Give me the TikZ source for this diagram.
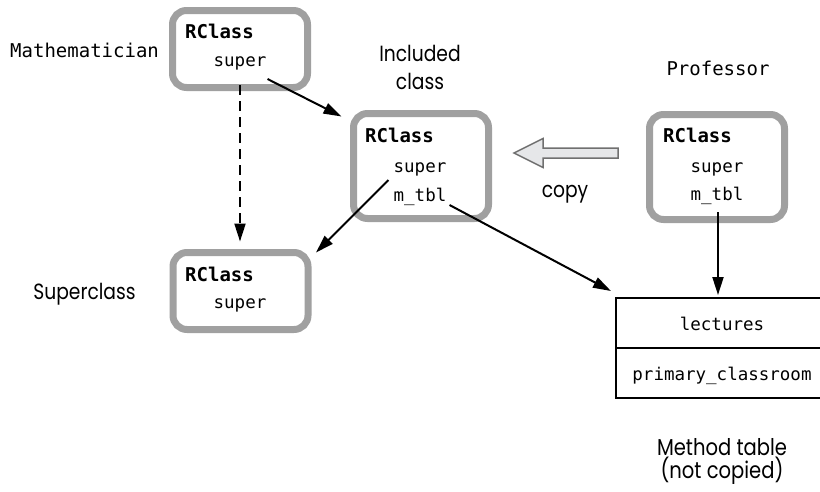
\documentclass[tikz,border=0pt]{standalone}
\usepackage{fontspec}
\setmonofont{DejaVu Sans Mono}
\newfontfamily\labelsans{Poppins}[FakeStretch=0.85]
\usetikzlibrary{arrows.meta}
\definecolor{framegray}{RGB}{160,160,160}
\definecolor{copyfill}{RGB}{230,231,233}
\definecolor{copyedge}{RGB}{112,112,112}

\begin{document}
\begin{tikzpicture}[x=1pt,y=-1pt,
  classbox/.style={draw=framegray, line width=7pt, rounded corners=14pt,
    minimum width=135pt, inner sep=0pt, fill=white},
  bodytext/.style={font=\ttfamily\fontsize{17.5}{20}\selectfont, inner sep=0pt, anchor=base},
  headtext/.style={font=\ttfamily\bfseries\fontsize{19}{22}\selectfont, inner sep=0pt, anchor=base west},
  monolabel/.style={font=\ttfamily\fontsize{19}{22}\selectfont, inner sep=0pt},
  sanslabel/.style={font=\labelsans\fontsize{22}{28}\selectfont, inner sep=0pt, align=center},
  link/.style={line width=2pt, -{Triangle[length=18pt,width=11pt]}},
  cell/.style={draw, line width=2pt, minimum width=214pt, minimum height=50pt, inner sep=0pt},
]
\useasboundingbox (0,0) rectangle (820,491);
\clip (0,0) rectangle (820,491);

% class structures
\node[classbox, minimum height=77pt]  (mbox) at (240,49)    {};
\node[classbox, minimum height=105pt] (ibox) at (421,166)   {};
\node[classbox, minimum height=105pt] (pbox) at (717,167)   {};
\node[classbox, minimum height=77pt]  (sbox) at (240.5,291) {};

\node[headtext] (mhead) at (185,38)  {RClass};
\node[bodytext] (msup)  at (240,66)  {super};
\node[headtext] (ihead) at (365,142) {RClass};
\node[bodytext] (isup)  at (420,172) {super};
\node[bodytext] (itbl)  at (420,201) {m\_tbl};
\node[headtext] (phead) at (663,142) {RClass};
\node[bodytext] (psup)  at (717,172) {super};
\node[bodytext] (ptbl)  at (717,200) {m\_tbl};
\node[headtext] (shead) at (185,281) {RClass};
\node[bodytext] (ssup)  at (240,308) {super};

% method table (its right edge runs past the page)
\node[cell] (tlec)  at (723,323) {};
\node[cell] (tprim) at (723,373) {};
\node[bodytext] (lect) at (722,330) {lectures};
\node[bodytext] (prim) at (722,380) {primary\_classroom};

% captions
\node[monolabel, anchor=base west] (lmath) at (10,57)  {Mathematician};
\node[monolabel, anchor=base]      (lprof) at (718,75) {Professor};
\node[sanslabel, anchor=base] (lsuper) at (84.5,299) {Superclass};
\node[sanslabel, anchor=base] (lincl)  at (420,89)   {Included\\class};
\node[sanslabel, anchor=base] (lcopy)  at (565,197)  {copy};
\node[sanslabel, anchor=base, font=\labelsans\fontsize{23}{23}\selectfont] (lmeth) at (722,478) {Method table\\(not copied)};

% copy arrow
\draw[line width=1.5pt, draw=copyedge, fill=copyfill, line join=miter]
  (618,148) -- (543,148) -- (543,138.5) -- (514,153) -- (543,167.5) -- (543,158) -- (618,158) -- cycle;

% pointers
\draw[link] ([shift={(1,13)}]msup.base east) -- ([shift={(-8.5,6.5)}]ibox.north west);
\draw[link, dash pattern=on 10pt off 6pt] ([shift={(0,19)}]msup.base) -- ([shift={(-0.5,-7.5)}]sbox.north);
\draw[link] ([shift={(-5,8)}]isup.base west) -- ([shift={(4.5,3.5)}]sbox.north east);
\draw[link] ([shift={(3,4)}]itbl.base east) -- ([shift={(-4,-6)}]tlec.north west);
\draw[link] ([shift={(1,12)}]ptbl.base) -- ([shift={(-5,-2)}]tlec.north);
\end{tikzpicture}
\end{document}
